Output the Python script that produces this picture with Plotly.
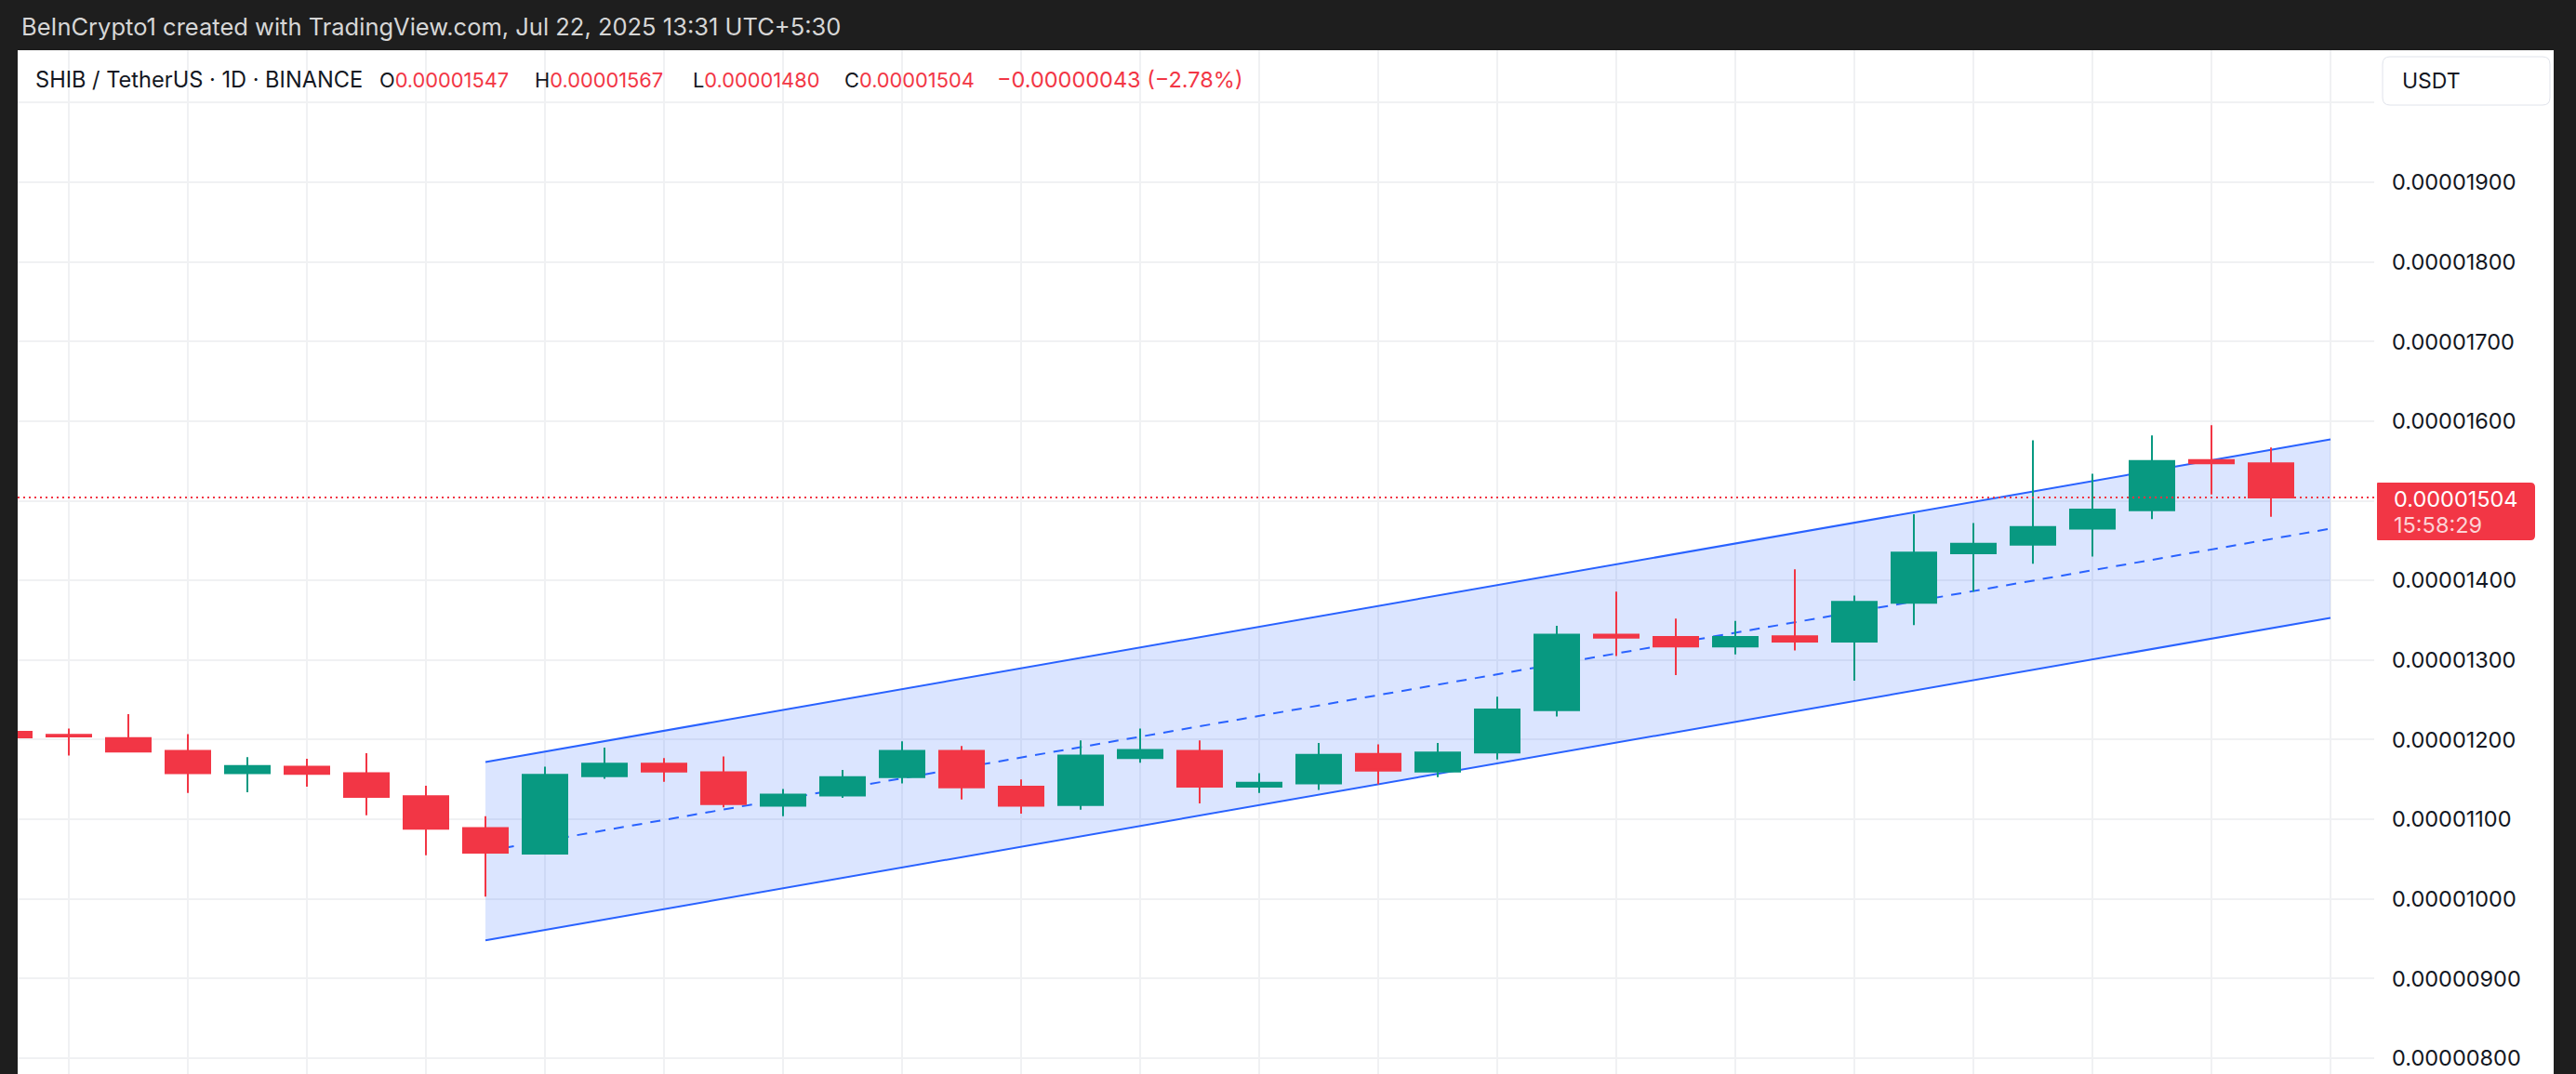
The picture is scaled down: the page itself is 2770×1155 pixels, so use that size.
import plotly.graph_objects as go

# ---------------- data ----------------
bar_index = list(range(39))
opens = [0.00001210, 0.00001206, 0.00001202, 0.00001186, 0.00001158, 0.00001166, 0.00001158, 0.00001129,
         0.00001089, 0.00001057, 0.00001154, 0.00001170, 0.00001159, 0.00001117, 0.00001130, 0.00001153,
         0.00001186, 0.00001141, 0.00001118, 0.00001177, 0.00001186, 0.00001141, 0.00001145, 0.00001182,
         0.00001160, 0.00001184, 0.00001237, 0.00001332, 0.00001329, 0.00001317, 0.00001330, 0.00001323,
         0.00001372, 0.00001434, 0.00001445, 0.00001465, 0.00001488, 0.00001551, 0.00001547]
highs = [0.00001213, 0.00001214, 0.00001232, 0.00001207, 0.00001178, 0.00001176, 0.00001183, 0.00001142,
         0.00001104, 0.00001166, 0.00001190, 0.00001177, 0.00001179, 0.00001138, 0.00001162, 0.00001198,
         0.00001192, 0.00001150, 0.00001199, 0.00001214, 0.00001199, 0.00001158, 0.00001196, 0.00001194,
         0.00001196, 0.00001254, 0.00001343, 0.00001386, 0.00001352, 0.00001349, 0.00001414, 0.00001381,
         0.00001483, 0.00001472, 0.00001576, 0.00001534, 0.00001582, 0.00001595, 0.00001567]
lows = [0.00001200, 0.00001180, 0.00001184, 0.00001133, 0.00001134, 0.00001141, 0.00001105, 0.00001055,
        0.00001003, 0.00001056, 0.00001151, 0.00001147, 0.00001115, 0.00001104, 0.00001127, 0.00001145,
        0.00001125, 0.00001107, 0.00001112, 0.00001171, 0.00001120, 0.00001133, 0.00001137, 0.00001144,
        0.00001153, 0.00001175, 0.00001229, 0.00001305, 0.00001281, 0.00001307, 0.00001312, 0.00001274,
        0.00001344, 0.00001386, 0.00001421, 0.00001430, 0.00001477, 0.00001508, 0.00001480]
closes = [0.00001203, 0.00001204, 0.00001185, 0.00001158, 0.00001167, 0.00001157, 0.00001128, 0.00001088,
          0.00001058, 0.00001156, 0.00001170, 0.00001160, 0.00001119, 0.00001131, 0.00001153, 0.00001186,
          0.00001140, 0.00001117, 0.00001180, 0.00001187, 0.00001141, 0.00001146, 0.00001181, 0.00001161,
          0.00001184, 0.00001238, 0.00001332, 0.00001328, 0.00001317, 0.00001329, 0.00001323, 0.00001373,
          0.00001435, 0.00001446, 0.00001467, 0.00001489, 0.00001550, 0.00001547, 0.00001504]

channel_x = [8, 39]
channel_upper = [0.00001172, 0.00001577]
channel_middle = [0.00001060, 0.00001465]
channel_lower = [0.00000948, 0.00001353]

last_price = 0.00001504
price_ticks = [0.00000800, 0.00000900, 0.00001000, 0.00001100, 0.00001200, 0.00001300, 0.00001400,
               0.00001500, 0.00001600, 0.00001700, 0.00001800, 0.00001900, 0.00002000]
hidden_tick_labels = [0.00001500, 0.00002000]
grid_bars = list(range(1, 40, 2))

header_text = "BeInCrypto1 created with TradingView.com, Jul 22, 2025 13:31 UTC+5:30"
symbol_text = "SHIB / TetherUS · 1D · BINANCE"
ohlc_labels = ["O", "H", "L", "C"]
ohlc_values = ["0.00001547", "0.00001567", "0.00001480", "0.00001504"]
change_text = "−0.00000043 (−2.78%)"
countdown_text = "15:58:29"
currency_text = "USDT"

# ---------------- style / layout constants ----------------
W, H = 2770, 1155
PL, PR, PT, PB = 19, 2553, 54, 1155
GREEN = "#089981"
RED = "#F23645"
BLUE = "#2962FF"
DARK = "#1e1e1e"
TXT = "#131722"
FONT = "Inter"


def px2x(px):
    return (px - PL) / (PR - PL)


def py2y(py):
    return (PB - py) / (PB - PT)


def rounded_rect(x0, y0, x1, y1, rl, rr):
    def P(px, py):
        return f"{px2x(px):.6f},{py2y(py):.6f}"
    return (f"M {P(x0 + rl, y0)} L {P(x1 - rr, y0)} Q {P(x1, y0)} {P(x1, y0 + rr)} "
            f"L {P(x1, y1 - rr)} Q {P(x1, y1)} {P(x1 - rr, y1)} L {P(x0 + rl, y1)} "
            f"Q {P(x0, y1)} {P(x0, y1 - rl)} L {P(x0, y0 + rl)} Q {P(x0, y0)} {P(x0 + rl, y0)} Z")


def data_poly(xs_top, ys_top, xs_bot, ys_bot):
    pts = list(zip(xs_top, ys_top)) + list(zip(reversed(xs_bot), reversed(ys_bot)))
    return "M " + " L ".join(f"{x},{y:.10e}" for x, y in pts) + " Z"


fig = go.Figure()

# candles
fig.add_trace(go.Candlestick(
    x=bar_index, open=opens, high=highs, low=lows, close=closes,
    increasing=dict(line=dict(color=GREEN, width=2), fillcolor=GREEN),
    decreasing=dict(line=dict(color=RED, width=2), fillcolor=RED),
    whiskerwidth=0, hoverinfo="skip", showlegend=False))

tick_text = ["" if any(abs(v - h) < 1e-12 for h in hidden_tick_labels) else f"{v:.8f}" for v in price_ticks]

shapes = [
    # white panel behind price scale
    dict(type="rect", xref="paper", yref="paper", x0=1, x1=px2x(2746), y0=0, y1=1,
         fillcolor="white", line=dict(width=0), layer="below"),
    # channel fill and lines (between grid and candles)
    dict(type="path", xref="x", yref="y", layer="between",
         path=data_poly(channel_x, channel_upper, channel_x, channel_lower),
         fillcolor="rgba(41,98,255,0.17)", line=dict(width=0)),
    dict(type="line", xref="x", yref="y", layer="between",
         x0=channel_x[0], x1=channel_x[1], y0=channel_upper[0], y1=channel_upper[1],
         line=dict(color=BLUE, width=2)),
    dict(type="line", xref="x", yref="y", layer="between",
         x0=channel_x[0], x1=channel_x[1], y0=channel_lower[0], y1=channel_lower[1],
         line=dict(color=BLUE, width=2)),
    dict(type="line", xref="x", yref="y", layer="between",
         x0=channel_x[0], x1=channel_x[1], y0=channel_middle[0], y1=channel_middle[1],
         line=dict(color=BLUE, width=2, dash="11px,9px")),
    # last price dotted line
    dict(type="line", xref="paper", yref="y", x0=0, x1=1, y0=last_price, y1=last_price,
         line=dict(color=RED, width=2, dash="2px,4px")),
    # USDT box
    dict(type="path", xref="paper", yref="paper", path=rounded_rect(2562, 61, 2742, 113, 8, 8),
         fillcolor="white", line=dict(color="#e0e3eb", width=1)),
    # last price label box
    dict(type="path", xref="paper", yref="paper", path=rounded_rect(2556, 519, 2726, 581, 1, 5),
         fillcolor=RED, line=dict(width=0)),
]

annotations = [
    dict(text=header_text, xref="paper", yref="paper", x=px2x(21), y=py2y(28),
         xanchor="left", yanchor="middle", showarrow=False,
         font=dict(family=FONT, size=25.5, color="#d6d6d6")),
    dict(text=symbol_text, xref="paper", yref="paper", x=px2x(36), y=py2y(86),
         xanchor="left", yanchor="middle", showarrow=False,
         font=dict(family=FONT, size=23.6, color=TXT)),
    dict(text=currency_text, xref="paper", yref="paper", x=px2x(2581), y=py2y(87),
         xanchor="left", yanchor="middle", showarrow=False,
         font=dict(family=FONT, size=23, color=TXT)),
    dict(text=f"{last_price:.8f}", xref="paper", yref="paper", x=px2x(2572), y=py2y(536),
         xanchor="left", yanchor="middle", showarrow=False,
         font=dict(family=FONT, size=23.5, color="white")),
    dict(text=countdown_text, xref="paper", yref="paper", x=px2x(2572), y=py2y(564),
         xanchor="left", yanchor="middle", showarrow=False,
         font=dict(family=FONT, size=23.5, color="rgba(255,255,255,0.78)")),
    dict(text=change_text, xref="paper", yref="paper",
         x=px2x(1070), y=py2y(86), xanchor="left", yanchor="middle", showarrow=False,
         font=dict(family=FONT, size=23.5, color=RED)),
]
ohlc_x = [406, 573, 743, 906]
for lab, val, xp in zip(ohlc_labels, ohlc_values, ohlc_x):
    annotations.append(dict(text=f"{lab}<span style='color:{RED}'>{val}</span>", xref="paper", yref="paper",
                            x=px2x(xp), y=py2y(86), xanchor="left", yanchor="middle", showarrow=False,
                            font=dict(family=FONT, size=21.8, color=TXT)))

x_lo = (PL - 10) / 64
x_hi = (PR - 10) / 64
y_per_px = (0.00001900 - 0.00000800) / (1138 - 196)
y_hi = 0.00001900 + (196 - PT) * y_per_px
y_lo = 0.00000800 - (PB - 1138) * y_per_px

fig.update_layout(
    width=W, height=H,
    margin=dict(l=PL, r=W - PR, t=PT, b=H - PB, pad=0),
    paper_bgcolor=DARK, plot_bgcolor="white",
    boxgap=0.25, boxgroupgap=0,
    showlegend=False,
    xaxis=dict(range=[x_lo, x_hi], tickvals=grid_bars, showticklabels=False, showgrid=True,
               gridcolor="#f0f1f3", gridwidth=2, zeroline=False, showline=False, ticks="",
               rangeslider=dict(visible=False), fixedrange=True),
    yaxis=dict(range=[y_lo, y_hi], side="right", tickvals=price_ticks, ticktext=tick_text,
               showgrid=True, gridcolor="#f0f1f3", gridwidth=2, zeroline=False, showline=False,
               ticks="", ticklabelstandoff=18,
               tickfont=dict(family=FONT, size=23.5, color=TXT), fixedrange=True),
    shapes=shapes,
    annotations=annotations,
)

fig.write_html("out.html")
